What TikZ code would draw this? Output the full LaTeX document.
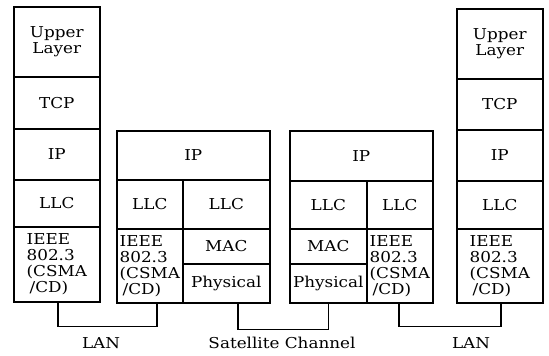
\documentclass[tikz,border=0pt]{standalone}
\usepackage{fontspec}
\setmainfont{DejaVu Serif}[FakeStretch=1.12]
\usetikzlibrary{calc}

\begin{document}
\begin{tikzpicture}[
    x=1pt, y=-1pt,
    layer/.style={draw, line width=1.6pt, inner sep=0pt, anchor=north west,
        font=\fontsize{15}{16}\selectfont, align=center},
    cell/.style 2 args={minimum width=#1pt, minimum height=#2pt},
    wire/.style={line width=1.6pt},
    lbl/.style={font=\fontsize{15}{16}\selectfont, inner sep=0pt}
]

\useasboundingbox (0,0) rectangle (549,356);

% 1. Left host stack
\node[layer, cell={86}{70}] (hAup)   at (13,6)   {Upper\\Layer};
\node[layer, cell={86}{52}] (hAtcp)  at (13,76)  {TCP};
\node[layer, cell={86}{51}] (hAip)   at (13,128) {IP};
\node[layer, cell={86}{47}] (hAllc)  at (13,179) {LLC};
\node[layer, cell={86}{75}, align=left] (hAieee) at (13,226) {IEEE\\802.3\\(CSMA\\\hspace*{3pt}/CD)};

% 2. First gateway (LAN side | satellite side)
\node[layer, cell={153}{49}] (rAip)  at (116,130) {IP};
\node[layer, cell={66}{49}] (rAllcL) at (116,179) {LLC};
\node[layer, cell={66}{74}, align=left] (rAieee) at (116,228) {IEEE\\802.3\\(CSMA\\\hspace*{3pt}/CD)};
\node[layer, cell={87}{49}] (rAllcR) at (182,179) {LLC};
\node[layer, cell={87}{35}] (rAmac)  at (182,228) {MAC};
\node[layer, cell={87}{39}] (rAphy)  at (182,263) {Physical};

% 3. Second gateway (satellite side | LAN side)
\node[layer, cell={143}{50}] (rBip)  at (289,130) {IP};
\node[layer, cell={77}{48}] (rBllcL) at (289,180) {LLC};
\node[layer, cell={77}{35}] (rBmac)  at (289,228) {MAC};
\node[layer, cell={77}{39}] (rBphy)  at (289,263) {Physical};
\node[layer, cell={66}{48}] (rBllcR) at (366,180) {LLC};
\node[layer, cell={66}{74}, align=left] (rBieee) at (366,228) {IEEE\\802.3\\(CSMA\\\hspace*{3pt}/CD)};

% 4. Right host stack
\node[layer, cell={86}{70}] (hBup)   at (456,8)   {Upper\\Layer};
\node[layer, cell={86}{51}] (hBtcp)  at (456,78)  {TCP};
\node[layer, cell={86}{51}] (hBip)   at (456,129) {IP};
\node[layer, cell={86}{48}] (hBllc)  at (456,180) {LLC};
\node[layer, cell={86}{74}, align=left] (hBieee) at (456,228) {IEEE\\802.3\\(CSMA\\\hspace*{3pt}/CD)};

% 5. Links
\draw[wire] ([xshift=1pt]hAieee.south) -- ++(0,24) -| ([xshift=7pt]rAieee.south);
\draw[wire] ([xshift=11.5pt]rAphy.south) -- ++(0,26) -| (rBphy.south);
\draw[wire] ([xshift=-1pt]rBieee.south) -- ++(0,23) -| ([xshift=1pt]hBieee.south);

% 6. Link labels
\node[lbl] (lanA) at (101,343) {LAN};
\node[lbl] (sat)  at (282,343) {Satellite Channel};
\node[lbl] (lanB) at (471,343) {LAN};

\end{tikzpicture}
\end{document}
